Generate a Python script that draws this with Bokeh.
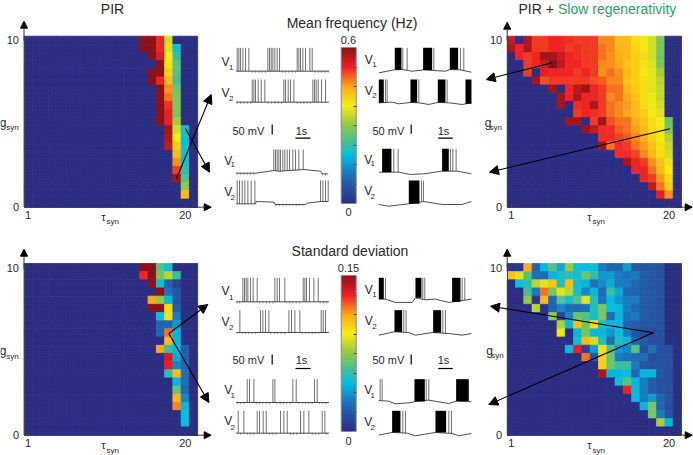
from bokeh.plotting import figure
from bokeh.embed import file_html
from bokeh.resources import INLINE
from bokeh.core.properties import value
from bokeh.models import (Range1d, LinearAxis, FixedTicker, LinearColorMapper, ColorBar,
                          Arrow, NormalHead, ColumnDataSource)
from bokeh.transform import transform
import numpy as np

W, H = 693, 455
OX, OY = 0, 0

# ---- heat-map values, as a fraction of the colour-bar scale; rows from g=10 downward, columns tau=1..20+
def row(start, vals):
    return [0.0] * start + vals + [0.0] * (21 - start - len(vals))

FREQ_PIR = [
    row(14, [1.0, 1.0, .87, .58]), row(14, [1.0, 1.0, .87, .6, .33]), row(15, [1.0, .9, .63, .38]),
    row(16, [1.0, .65, .43]), row(15, [1.0, 1.0, .68, .42]), row(15, [1.0, .87, .72, .40]),
    row(16, [1.0, .77, .45]), row(16, [1.0, .8, .47]), row(16, [1.0, .86, .48]), row(16, [1.0, .88, .47]),
    row(16, [1.0, .88, .52]), row(17, [.97, .58, .33]), row(17, [.95, .63, .32]), row(17, [.93, .68, .32]),
    row(18, [.72, .33]), row(18, [.77, .34]), row(18, [.85, .36]), row(18, [.97, .42]),
    row(19, [.5]), row(19, [.72]), row(0, []),
]
FREQ_SLOW = [
    row(0, [.92, 0, .95, .85, .85, .87, .87, .86, .85, .85, .85, .78, .78, .72, .72, .66, .62, .58, .47]),
    row(0, [.95, .87, .95, .85, .85, .87, .87, .85, .86, .85, .85, .80, .78, .73, .72, .67, .64, .58, .47]),
    row(1, [.87, .85, .87, .97, .97, .92, .87, .86, .85, .85, .8, .77, .74, .72, .68, .66, .58, .46]),
    row(2, [.85, .87, .92, 1.0, .93, .87, .87, .85, .85, .78, .77, .75, .7, .68, .65, .59, .47]),
    row(2, [.85, 0, .88, .87, .87, .87, .85, .87, .85, .77, .8, .77, .72, .68, .64, .6, .52]),
    row(3, [.97, .83, .85, .85, .85, .85, .85, .83, .82, .78, .78, .7, .68, .65, .6, .55]),
    row(5, [.97, 0, .87, .94, .97, .87, .85, .8, .8, .73, .69, .65, .6, .56]),
    row(6, [.97, .87, .95, .87, .87, .85, .78, .8, .75, .7, .66, .62, .56]),
    row(6, [.97, 0, .86, .87, .95, .85, .8, .78, .76, .72, .66, .62, .58]),
    row(8, [.85, .87, .86, .85, .8, .78, .75, .72, .68, .64, .6]),
    row(7, [.97, .97, 0, .85, .97, .83, .8, .8, .74, .7, .66, .63, .45]),
    row(9, [.98, .93, .86, .86, .82, .8, .76, .72, .66, .64, .47]),
    row(11, [.86, .86, .84, .82, .78, .74, .68, .64, .54]),
    row(11, [.97, .8, .86, .85, .8, .76, .7, .65, .57]),
    row(13, [.86, .86, .84, .78, .72, .66, .58]),
    row(14, [.96, .87, .85, .77, .7, .61]),
    row(15, [.87, .87, .8, .72, .63]),
    row(16, [.87, .85, .76, .67]),
    row(17, [.93, .8, .68]),
    row(18, [.88, .77]),
    row(0, []),
]
SD_PIR = [
    row(14, [1.0, 1.0, .42, .33]), row(14, [.87, 1.0, .46, .55, .38]), row(15, [1.0, .33, .15, .06]),
    row(16, [1.0, .18, .12]), row(15, [.75, .5, .3, .12]), row(15, [1.0, 1.0, .66, .13]),
    row(16, [.33, .66, .2]), row(16, [.15, .15, .25]), row(16, [.15, .8, .3]), row(17, [.72, .3]),
    row(16, [.75, .38, .3, .13]), row(17, [.9, .28, .14]), row(17, [.88, .22, .16]), row(17, [.36, .72, .18]),
    row(18, [.3, .17]), row(18, [.45, .16]), row(18, [.73, .22]), row(18, [.78, .3]),
    row(19, [.31]), row(19, [.31]), row(0, []),
]
SD_SLOW = [
    row(0, [.02, .03, .74, .15, .3, .42, .27, .5, .32, .31, .31, .2, .16, .16, .25, .13, .12, .12, .11]),
    row(0, [.7, .6, .42, .18, .17, .3, .34, .36, .33, .45, .38, .25, .25, .2, .18, .2, .14, .12, .11]),
    row(1, [.32, .36, .55, .6, .7, .36, .72, .33, .3, .18, .23, .28, .2, .2, .16, .13, .12, .11]),
    row(2, [.4, .2, .8, .47, .6, .55, .34, .22, .3, .17, .38, .28, .16, .15, .13, .12, .11]),
    row(2, [.5, .03, .72, .15, .42, .33, .42, .6, .35, .18, .3, .24, .2, .2, .13, .12, .11]),
    row(3, [.55, .02, .15, .22, .17, .17, .18, .35, .47, .31, .3, .2, .15, .14, .12, .11]),
    row(5, [.5, .07, .22, .45, .42, .33, .47, .17, .3, .18, .2, .13, .12, .11]),
    row(6, [.53, .3, .72, .46, .66, .33, .3, .3, .15, .14, .12, .12, .11]),
    row(6, [.62, 0, .3, .47, .3, .3, .25, .32, .2, .12, .08, .08, .1]),
    row(8, [.33, .72, .58, .35, .17, .35, .3, .15, .13, .1, .1]),
    row(7, [.3, .88, .06, .25, .66, .42, .25, .22, .42, .1, .18, .1, .1]),
    row(9, [.8, .12, .68, .45, .2, .18, .17, .17, .1, .11, .1]),
    row(11, [.68, .45, .38, .38, .2, .12, .11, .11, .1]),
    row(11, [.95, .3, .3, .32, .15, .3, .3, .12, .1]),
    row(13, [.33, .43, .3, .2, .14, .11, .1]),
    row(14, [.87, .3, .2, .13, .11, .1]),
    row(15, [.3, .2, .25, .15, .11]),
    row(16, [.3, .47, .15, .1]),
    row(17, [.47, .2, .12]),
    row(18, [.53, .3]),
    row(0, []),
]

TAU_TICKS = [1, 20]
G_TICKS = [0, 10]

# ---- colour scale
STOP_POS = [0, .1, .19, .31, .385, .5, .63, .75, .875, 1]
STOP_RGB = [(43, 46, 131), (39, 80, 159), (28, 117, 188), (5, 190, 225), (60, 190, 160),
            (145, 200, 70), (247, 236, 19), (251, 170, 25), (238, 32, 36), (139, 18, 25)]
grid = np.linspace(0, 1, 256)
PALETTE = ["#%02x%02x%02x" % tuple(int(round(np.interp(g, STOP_POS, [c[k] for c in STOP_RGB]))) for k in range(3))
           for g in grid]
mapper = LinearColorMapper(palette=PALETTE, low=0, high=1)

# ---- voltage traces. Time in samples (46 per second), voltage in units of 1.67 mV above the trace base.
A1_SPIKES = [3, 8, 13, 20, 28, 38, 95, 100, 105, 110, 116, 123, 130, 183, 188, 193, 200, 208, 221, 228]
A1_RIPPLES = [48, 58, 68, 78, 88, 138, 148, 158, 168, 178, 236, 246, 256, 266, 276]
A2_SPIKES = [48, 53, 58, 66, 75, 86, 143, 148, 156, 163, 173, 230, 235, 240, 246, 256, 268]
A2_RIPPLES = [3, 13, 23, 33, 43, 96, 106, 116, 126, 136, 183, 193, 203, 213, 223]
A3_SPIKES = [113, 118, 123, 128, 133, 140, 146, 153, 160, 170, 178, 188, 201]
A3_RIPPLES = [3, 13, 23, 33, 43, 53, 258, 268]
A3_BASE = [(0, 0), (58, 0), (113, 8), (130, 6), (203, 11), (253, 6), (258, -2), (276, -2)]
A4_SPIKES = [3, 10, 18, 26, 35, 45, 56, 253, 260, 268, 276]
A4_RIPPLES = [120, 130, 140, 150, 160, 170, 180, 190, 200]
A4_BASE = [(0, 2), (58, 2), (60, 9), (113, 7), (116, 0), (208, 0), (213, 4), (253, 9), (276, 9)]

B1_SPIKES = [72, 85, 165, 245, 255]
B1_BURSTS = [(48, 68), (133, 160), (213, 238)]
B1_BASE = [(0, -2), (45, 7), (70, 8), (100, 3), (135, 7), (165, 5), (200, 3), (213, 8), (245, 7), (278, 0)]
B2_SPIKES = [20, 25, 120, 205]
B2_BURSTS = [(0, 15), (95, 115), (177, 200), (260, 278)]
B2_BASE = [(0, 3), (40, 5), (60, 0), (95, 4), (120, 3), (150, -2), (177, 4), (210, 3), (250, -2), (278, 3)]
B3_SPIKES = [45, 58, 215, 222, 232]
B3_BURSTS = [(10, 38), (190, 210)]
B3_BASE = [(0, 5), (60, 5), (95, -2), (135, 0), (190, 8), (235, 8), (278, 0)]
B4_SPIKES = [128, 134]
B4_BURSTS = [(90, 122)]
B4_BASE = [(0, 3), (30, -2), (90, 5), (135, 12), (190, 3), (250, 3), (278, 12)]

C1_SPIKES = [20, 25, 30, 35, 43, 51, 63, 116, 123, 130, 146, 201, 206, 211, 220, 233, 246]
C1_RIPPLES = [3, 10, 70, 80, 90, 100, 110, 150, 160, 170, 180, 190, 252, 262, 272]
C2_SPIKES = [11, 73, 80, 88, 98, 158, 166, 176, 191, 255, 261, 268]
C2_RIPPLES = [18, 28, 38, 48, 58, 105, 115, 125, 135, 145, 198, 208, 218, 228, 238, 248]
C3_SPIKES = [33, 40, 53, 110, 116, 170, 180, 235, 243]
C3_RIPPLES = [3, 13, 23, 60, 70, 80, 90, 100, 122, 132, 142, 152, 162, 188, 198, 208, 218, 228, 250, 260, 270]
C4_SPIKES = [6, 23, 63, 70, 81, 90, 133, 143, 153, 193, 203, 218, 258, 266]
C4_RIPPLES = [13, 33, 43, 53, 100, 110, 120, 162, 172, 182, 228, 238, 248, 272]

D1_SPIKES = [20, 132, 138, 250, 258]
D1_BURSTS = [(0, 15), (110, 128), (220, 245)]
D1_BASE = [(0, 8), (20, 8), (50, -2), (100, -2), (110, 12), (140, 6), (170, 8), (210, -2), (278, 8)]
D2_SPIKES = [75, 82, 192, 200]
D2_BURSTS = [(47, 70), (163, 187)]
D2_BASE = [(0, -2), (45, 8), (90, 6), (110, -2), (160, 6), (210, 3), (250, -2), (278, 3)]
D3_SPIKES = [4, 10, 142, 150]
D3_BURSTS = [(107, 138), (232, 270)]
D3_BASE = [(0, 9), (30, 7), (50, -1), (100, 3), (110, 7), (150, 10), (210, 0), (232, 7), (278, 5)]
D4_SPIKES = [72, 80, 210, 218]
D4_BURSTS = [(40, 65), (170, 202)]
D4_BASE = [(0, 2), (40, 10), (85, 8), (110, 0), (170, 10), (220, 7), (240, 0), (278, 7)]

FLAT = [(0, 0), (278, 0)]
TRACES = [
    (235.7, 70.7, 70, A1_SPIKES, [], A1_RIPPLES, FLAT),
    (235.7, 101.7, 68, A2_SPIKES, [], A2_RIPPLES, FLAT),
    (235.7, 172.7, 71, A3_SPIKES, [], A3_RIPPLES, A3_BASE),
    (235.7, 204.0, 72, A4_SPIKES, [], A4_RIPPLES, A4_BASE),
    (378.3, 71.7, 73, B1_SPIKES, B1_BURSTS, [], B1_BASE),
    (378.3, 103.3, 73, B2_SPIKES, B2_BURSTS, [], B2_BASE),
    (378.3, 173.3, 75, B3_SPIKES, B3_BURSTS, [], B3_BASE),
    (378.3, 205.0, 75, B4_SPIKES, B4_BURSTS, [], B4_BASE),
    (235.7, 301.3, 72, C1_SPIKES, [], C1_RIPPLES, FLAT),
    (235.7, 332.0, 67, C2_SPIKES, [], C2_RIPPLES, FLAT),
    (235.7, 402.0, 70, C3_SPIKES, [], C3_RIPPLES, FLAT),
    (235.7, 432.7, 67, C4_SPIKES, [], C4_RIPPLES, FLAT),
    (378.3, 301.3, 72, D1_SPIKES, D1_BURSTS, [], D1_BASE),
    (378.3, 334.0, 73, D2_SPIKES, D2_BURSTS, [], D2_BASE),
    (378.3, 403.0, 73, D3_SPIKES, D3_BURSTS, [], D3_BASE),
    (378.3, 435.3, 75, D4_SPIKES, D4_BURSTS, [], D4_BASE),
]

p = figure(width=W, height=H, x_range=Range1d(OX, OX + W), y_range=Range1d(OY + H, OY),
           x_axis_type=None, y_axis_type=None, toolbar_location=None,
           output_backend="svg", min_border=0, outline_line_color=None)
FONT = value("Liberation Sans")
DARK = "#2a2a2a"
X0, X1, Y0, Y1 = OX, OX + W, OY, OY + H

# ---- heat maps with their own scales and axes
PANELS = [
    ("tl", FREQ_PIR, 23.5, 35.7, 8.27, 8.14),
    ("tr", FREQ_SLOW, 506.7, 35.7, 8.3, 8.14),
    ("bl", SD_PIR, 23.5, 263.0, 8.27, 8.17),
    ("br", SD_SLOW, 506.7, 263.0, 8.3, 8.17),
]
G_STEP = 10 / 20.5
for name, cells, x0, y0, cw, ch in PANELS:
    tau_at = lambda px: 1 + (px - x0 - cw / 2) / cw
    g_at = lambda py: 10 - (py - y0 - ch / 2) / ch * G_STEP
    p.extra_x_ranges[name] = Range1d(tau_at(X0), tau_at(X1))
    p.extra_y_ranges[name] = Range1d(g_at(Y1), g_at(Y0))
    arr = np.array(cells)
    jj, ii = np.indices(arr.shape)
    src = ColumnDataSource(dict(tau=(ii + 1).ravel().tolist(), g=(10 - jj * G_STEP).ravel().tolist(),
                                v=arr.ravel().tolist()))
    p.rect("tau", "g", width=1, height=G_STEP, source=src, x_range_name=name, y_range_name=name,
           fill_color=transform("v", mapper), line_color=transform("v", mapper), line_width=0.8)

    xa = LinearAxis(x_range_name=name, y_range_name=name, fixed_location=0,
                    ticker=FixedTicker(ticks=TAU_TICKS), bounds=(0.5, 21.5))
    ya = LinearAxis(x_range_name=name, y_range_name=name, fixed_location=0.5,
                    ticker=FixedTicker(ticks=G_TICKS), bounds=(0, 10.25))
    for ax in (xa, ya):
        ax.axis_line_color = "#444444"
        ax.axis_line_width = 1
        ax.major_tick_line_color = "#444444"
        ax.major_tick_in = 3
        ax.major_tick_out = 0
        ax.minor_tick_line_color = None
        ax.major_label_text_font = "Liberation Sans"
        ax.major_label_text_font_size = "11px"
        ax.major_label_text_color = DARK
    xa.major_label_standoff = 4
    ya.major_label_standoff = 5
    p.add_layout(xa, "below")
    p.add_layout(ya, "left")

# ---- arrows
head = lambda s: NormalHead(size=s, fill_color="black", line_color="black")
AXIS_ARROWS = [
    (23.5, 40, 23.5, 20.7), (190, 206.7, 210.7, 206.7),
    (506.7, 40, 506.7, 21.7), (675, 206.7, 691.7, 206.7),
    (23.5, 268, 23.5, 248.7), (190, 434.7, 210.7, 434.7),
    (506.7, 268, 506.7, 248.7), (675, 434.7, 691.7, 434.7),
]
LINK_ARROWS = [
    (176, 178, 210.7, 94), (185, 128, 209, 171.7),
    (551.7, 62.3, 485.7, 79), (669.3, 128.3, 489, 171.7),
    (168.3, 333, 207.3, 304), (168.3, 333, 208.3, 402),
    (652.7, 332.3, 490, 305.7), (652.7, 332.3, 488.3, 404),
]
for a in AXIS_ARROWS:
    p.add_layout(Arrow(end=head(7), x_start=a[0], y_start=a[1], x_end=a[2], y_end=a[3],
                       line_color="#333333", line_width=1))
for a in LINK_ARROWS:
    p.add_layout(Arrow(end=head(9), x_start=a[0], y_start=a[1], x_end=a[2], y_end=a[3],
                       line_color="black", line_width=1.1))

# ---- traces, each on its own time/voltage scale
UNITS_PER_PX = 3
for k, (ox, oy, top, spikes, bursts, ripples, base) in enumerate(TRACES):
    nm = "tr%d" % k
    p.extra_x_ranges[nm] = Range1d((X0 - ox) * UNITS_PER_PX, (X1 - ox) * UNITS_PER_PX)
    p.extra_y_ranges[nm] = Range1d((oy - Y1) * UNITS_PER_PX, (oy - Y0) * UNITS_PER_PX)
    bt = [b[0] for b in base]
    bv = [b[1] for b in base]
    p.line(bt, bv, x_range_name=nm, y_range_name=nm, line_color="black", line_width=0.7)
    if spikes:
        p.segment(spikes, np.interp(spikes, bt, bv).tolist(), spikes, [top] * len(spikes),
                  x_range_name=nm, y_range_name=nm, line_color="#333333", line_width=0.7)
    if bursts:
        p.quad(left=[b[0] for b in bursts], right=[b[1] for b in bursts],
               bottom=np.interp([b[0] for b in bursts], bt, bv).tolist(), top=[top] * len(bursts),
               x_range_name=nm, y_range_name=nm, fill_color="black", line_color=None)
    if ripples:
        rb = np.interp(ripples, bt, bv)
        p.segment(ripples, (rb + 2).tolist(), ripples, (rb - 5).tolist(),
                  x_range_name=nm, y_range_name=nm, line_color="#555555", line_width=0.6)

# ---- scale bars
VBARS = [(271.7, 124, 134), (410.7, 124, 133.3), (271.7, 354, 364), (410.7, 354, 364)]
HBARS = [(295, 310, 137.7), (437.7, 452.3, 137.7), (295, 310, 368), (437.7, 452.3, 368)]
p.segment([b[0] for b in VBARS], [b[1] for b in VBARS], [b[0] for b in VBARS], [b[2] for b in VBARS],
          line_color="black", line_width=1.2)
p.segment([b[0] for b in HBARS], [b[2] for b in HBARS], [b[1] for b in HBARS], [b[2] for b in HBARS],
          line_color="black", line_width=1.2)

# ---- colour bars
BAR_TICKS = [0.125, 0.25, 0.375, 0.5, 0.625, 0.75, 0.875]
for bottom_py in (203, 431):
    cb = ColorBar(color_mapper=mapper, location=(340.7 - OX, Y1 - bottom_py), width=15, height=156,
                  padding=0, margin=0, ticker=FixedTicker(ticks=BAR_TICKS),
                  major_label_text_color=None, major_label_text_font_size="1px",
                  major_tick_line_color="#555555", major_tick_in=3, major_tick_out=0,
                  minor_tick_line_color=None, bar_line_color="#888888",
                  background_fill_color=None, border_line_color=None)
    p.add_layout(cb, "center")

# ---- texts
def texts(xs, ys, strings, size, color=DARK, align="center"):
    p.text(xs, ys, text=strings, text_font=FONT, text_font_size=size, text_color=color,
           text_align=align, text_baseline="middle")

texts([112, 351.5, 349.5], [8, 22, 250], ["PIR", "Mean frequency (Hz)", "Standard deviation"], "14px")
texts([518], [8], ["PIR + "], "14px", align="left")
texts([557.5], [8], ["Slow regenerativity"], "14px", color="#1fa566", align="left")
texts([348, 348, 348, 348], [39.5, 211.7, 267, 440], ["0.6", "0", "0.15", "0"], "11px")

MV_X = [232, 372, 232, 372]
MV_Y = [130, 130, 359, 359]
texts(MV_X, MV_Y, ["50 mV"] * 4, "11px", align="left")
texts([301, 443, 301, 443], [130, 130, 359, 359], ["1s"] * 4, "11px")

V_X = [225, 225, 227.7, 227.7, 368.3, 368.3, 367.7, 367.7] * 2
V_Y = [61, 92.7, 160, 191.7, 59.3, 90, 159.3, 190,
       290.3, 321.3, 389.7, 420.7, 289, 320.7, 389.7, 421.3]
VS_X = [230.7, 230.7, 232.3, 232.3, 374, 374, 372.3, 372.3] * 2
VS_Y = [66.7, 97.7, 164.3, 197.3, 64, 95, 163.3, 196,
        297, 326.7, 395.3, 427.3, 293.7, 326.3, 394.7, 427]
texts(V_X, V_Y, ["V"] * 16, "12px")
texts(VS_X, VS_Y, ["1", "2"] * 8, "8px")

TAU_X = [103, 589, 103, 589]
TAU_Y = [216.5, 216.5, 444.7, 444.7]
SYN_TX = [106, 592, 106, 592]
SYN_TY = [221, 221, 449.5, 449.5]
texts(TAU_X, TAU_Y, ["\u03c4"] * 4, "11px")
texts(SYN_TX, SYN_TY, ["syn"] * 4, "8px", align="left")

G_X = [2.5, 487.5, 2.5, 489]
G_Y = [122, 122, 350.7, 350.5]
SYN_GX = [5.7, 489, 5.7, 490.7]
SYN_GY = [127, 127, 355.5, 355]
texts(G_X, G_Y, ["g"] * 4, "12px")
texts(SYN_GX, SYN_GY, ["syn"] * 4, "8px", align="left")

open("out.html", "w").write(file_html(p, INLINE))
